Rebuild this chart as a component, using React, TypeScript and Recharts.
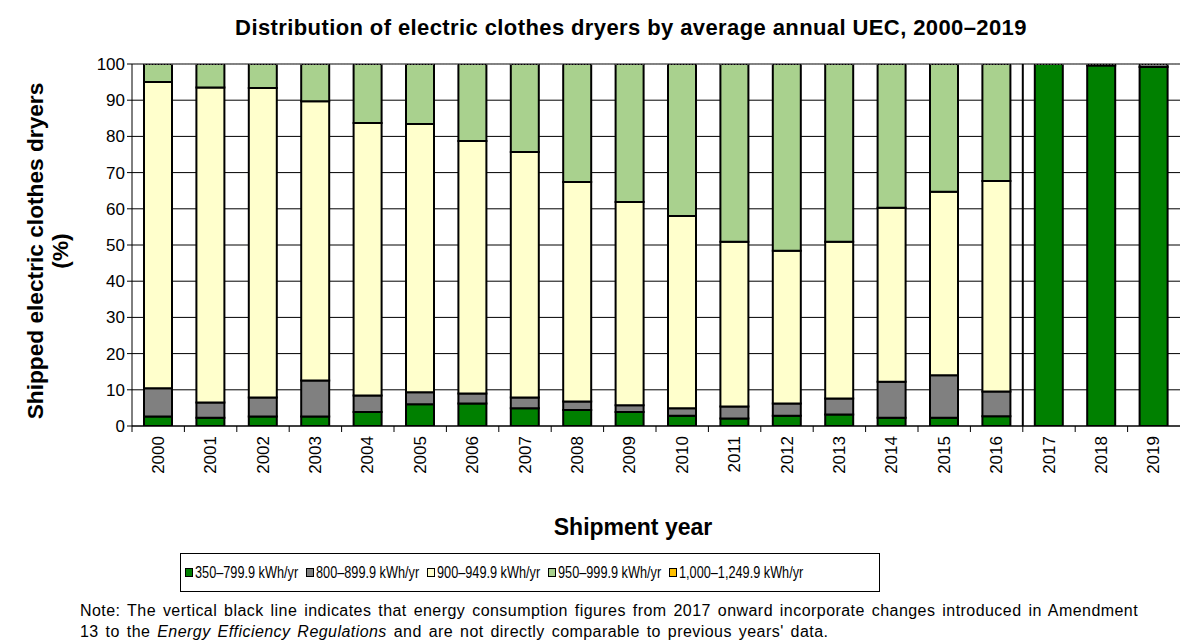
import {
  BarChart,
  Bar,
  XAxis,
  YAxis,
  CartesianGrid,
  ReferenceLine,
} from "recharts";

const years = [
  "2000", "2001", "2002", "2003", "2004", "2005", "2006", "2007", "2008", "2009",
  "2010", "2011", "2012", "2013", "2014", "2015", "2016", "2017", "2018", "2019",
];

// shares of shipments (%) per UEC band
const band350 = [2.6, 2.3, 2.6, 2.6, 3.9, 6.0, 6.2, 4.9, 4.4, 3.9, 2.8, 2.1, 2.8, 3.2, 2.3, 2.3, 2.7, 100, 99.6, 99.2];
const band800 = [7.8, 4.2, 5.3, 10.0, 4.5, 3.3, 2.8, 3.0, 2.4, 1.8, 2.1, 3.3, 3.4, 4.4, 9.9, 11.7, 6.8, 0, 0.4, 0.8];
const band900 = [84.6, 87.0, 85.5, 77.1, 75.3, 74.1, 69.7, 67.8, 60.6, 56.2, 53.1, 45.5, 42.2, 43.3, 48.1, 50.7, 58.2, 0, 0, 0];
const band950 = [5.0, 6.5, 6.6, 10.3, 16.3, 16.6, 21.3, 24.3, 32.6, 38.1, 42.0, 49.1, 51.6, 49.1, 39.7, 35.3, 32.3, 0, 0, 0];
const band1000 = [0, 0, 0, 0, 0, 0, 0, 0, 0, 0, 0, 0, 0, 0, 0, 0, 0, 0, 0, 0];

const yTicks = [0, 10, 20, 30, 40, 50, 60, 70, 80, 90, 100];

const series = [
  { key: "b350", name: "350–799.9 kWh/yr", color: "#008000", values: band350 },
  { key: "b800", name: "800–899.9 kWh/yr", color: "#808080", values: band800 },
  { key: "b900", name: "900–949.9 kWh/yr", color: "#FFFFCC", values: band900 },
  { key: "b950", name: "950–999.9 kWh/yr", color: "#A9D18E", values: band950 },
  { key: "b1000", name: "1,000–1,249.9 kWh/yr", color: "#FFC000", values: band1000 },
];

const data = years.map((year, i) => {
  const row: Record<string, string | number> = { year };
  series.forEach((s) => {
    row[s.key] = s.values[i];
  });
  return row;
});

const FONT = "'Liberation Sans', Arial, sans-serif";

function YearTick(props: any) {
  const { x, y, payload } = props;
  return (
    <g>
      <line x1={x - 26.2} x2={x - 26.2} y1={y - 8} y2={y - 2} stroke="#000" />
      <text
        x={x}
        y={y + 2}
        transform={`rotate(-90, ${x}, ${y + 2})`}
        textAnchor="end"
        dominantBaseline="central"
        fontSize={17}
        fill="#000"
        fontFamily={FONT}
      >
        {payload.value}
      </text>
    </g>
  );
}

export default function App() {
  return (
    <div
      style={{
        position: "absolute",
        left: 0,
        top: 0,
        width: 1181,
        height: 642,
        background: "#fff",
        fontFamily: FONT,
        color: "#000",
        overflow: "hidden",
      }}
    >
      <div
        style={{
          position: "absolute",
          top: 15,
          left: 0,
          width: 1262,
          textAlign: "center",
          fontWeight: "bold",
          fontSize: 22,
          letterSpacing: 0.4,
        }}
      >
        Distribution of electric clothes dryers by average annual UEC, 2000–2019
      </div>

      <div
        style={{
          position: "absolute",
          left: 48,
          top: 251,
          width: 400,
          transform: "translate(-50%, -50%) rotate(-90deg)",
          textAlign: "center",
          fontWeight: "bold",
          fontSize: 22.7,
          lineHeight: "25px",
        }}
      >
        Shipped electric clothes dryers
        <br />
        (%)
      </div>

      <div style={{ position: "absolute", left: 0, top: 0 }}>
        <BarChart
          width={1181}
          height={490}
          data={data}
          margin={{ top: 64, right: 1, left: 92, bottom: 0 }}
          barSize={28}
        >
          <CartesianGrid vertical={false} stroke="#000" strokeWidth={1} />
          <XAxis
            dataKey="year"
            tick={<YearTick />}
            tickLine={false}
            axisLine={{ stroke: "#000" }}
            interval={0}
            height={64}
          />
          <YAxis
            domain={[0, 100]}
            ticks={yTicks}
            width={40}
            tick={{ fill: "#000", fontSize: 17, fontFamily: FONT }}
            tickLine={{ stroke: "#000" }}
            tickSize={5}
            axisLine={{ stroke: "#000" }}
            allowDataOverflow
          />
          {series.map((s) => (
            <Bar
              key={s.key}
              dataKey={s.key}
              name={s.name}
              stackId="a"
              fill={s.color}
              stroke="#000"
              strokeWidth={2}
              isAnimationActive={false}
            />
          ))}
          <ReferenceLine y={100} stroke="#888" strokeDasharray="2 1" />
          <ReferenceLine x="2017" position="start" stroke="#000" strokeWidth={2} />
        </BarChart>
      </div>

      <div
        style={{
          position: "absolute",
          top: 514,
          left: 0,
          width: 1266,
          textAlign: "center",
          fontWeight: "bold",
          fontSize: 23,
        }}
      >
        Shipment year
      </div>

      <div
        style={{
          position: "absolute",
          left: 180,
          top: 553,
          width: 700,
          height: 39,
          border: "1px solid #000",
          display: "flex",
          alignItems: "center",
          paddingLeft: 4,
          boxSizing: "border-box",
        }}
      >
        {series.map((s) => (
          <div
            key={s.key}
            style={{
              width: 121,
              flexShrink: 0,
              display: "flex",
              alignItems: "center",
              fontSize: 16.5,
              whiteSpace: "nowrap",
            }}
          >
            <span
              style={{
                display: "inline-block",
                flexShrink: 0,
                width: 6,
                height: 7,
                background: s.color,
                border: "1px solid #000",
                marginRight: 2,
              }}
            />
            <span
              style={{
                display: "inline-block",
                transform: "scaleX(0.77)",
                transformOrigin: "left center",
              }}
            >
              {s.name}
            </span>
          </div>
        ))}
      </div>

      <div
        style={{
          position: "absolute",
          left: 80,
          top: 600,
          fontSize: 16,
          letterSpacing: 0.45,
          wordSpacing: 2,
          lineHeight: "21px",
          whiteSpace: "nowrap",
        }}
      >
        Note: The vertical black line indicates that energy consumption figures from 2017 onward incorporate changes introduced in Amendment
        <br />
        13 to the <i>Energy Efficiency Regulations</i> and are not directly comparable to previous years' data.
      </div>
    </div>
  );
}
